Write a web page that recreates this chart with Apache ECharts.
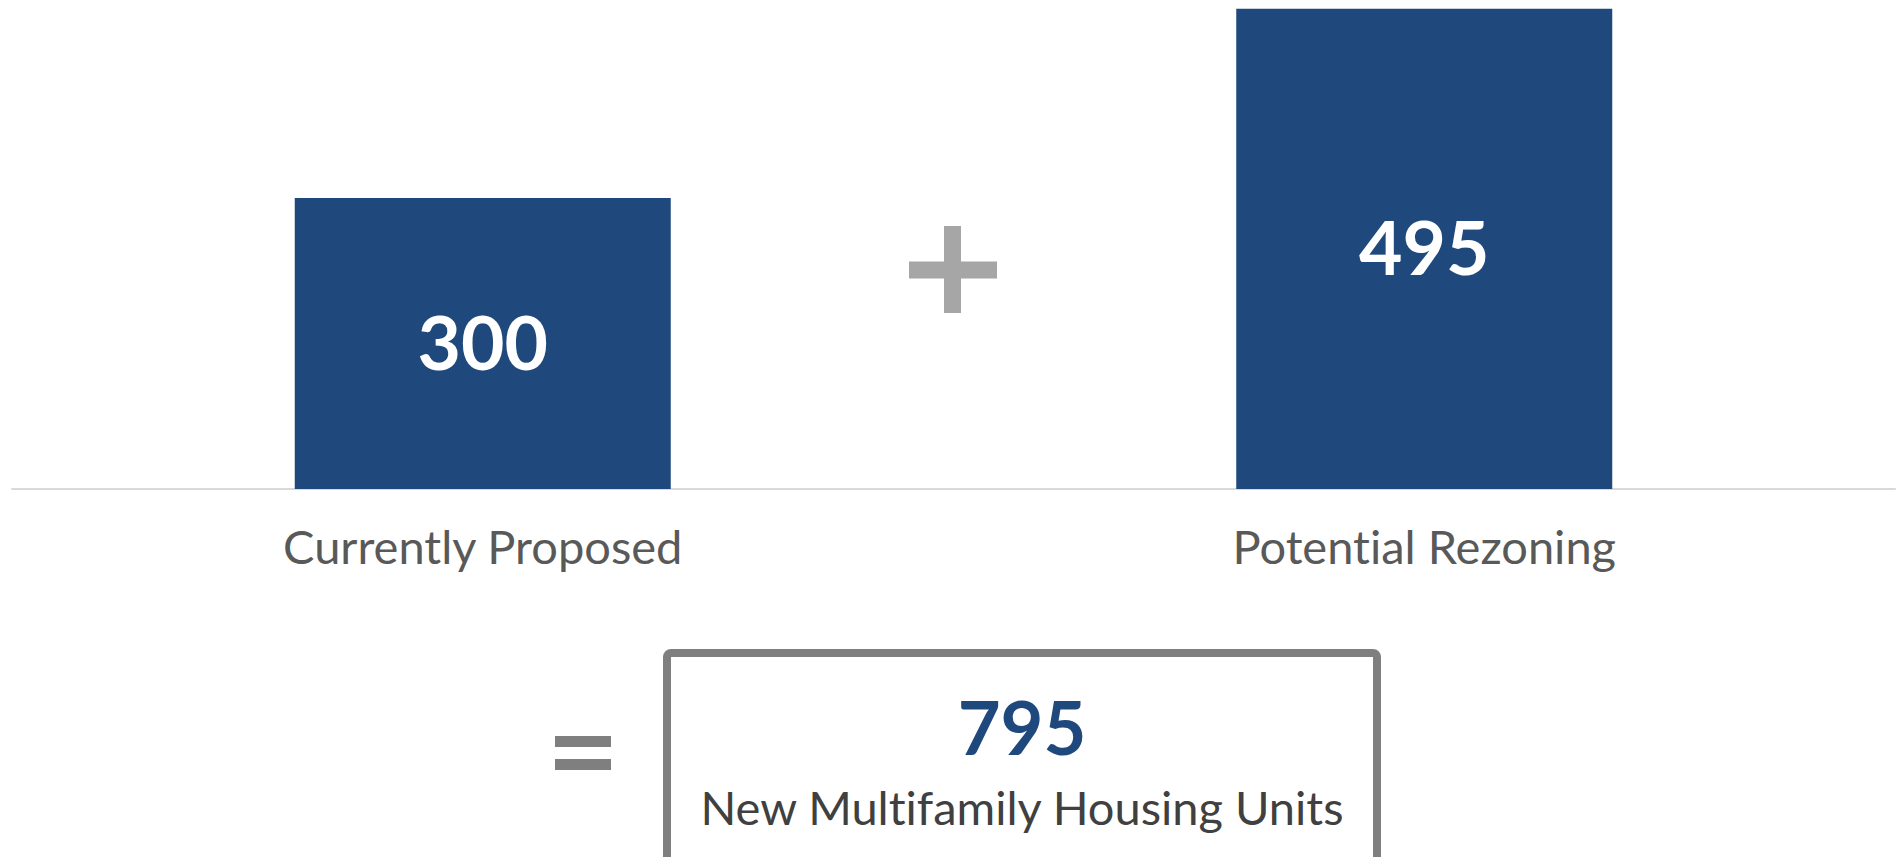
<!DOCTYPE html>
<html>
<head>
<meta charset="utf-8">
<title>New Multifamily Housing Units</title>
<script src="https://cdn.jsdelivr.net/npm/echarts@6/dist/echarts.min.js"></script>
<style>
  html, body { margin: 0; padding: 0; background: #fff; }
  #main { width: 1902px; height: 857px; }
  /* the original font has no "ti"/"fi" ligatures */
  #main text { font-variant-ligatures: none; font-feature-settings: "liga" 0, "clig" 0, "dlig" 0; }
</style>
</head>
<body>
<div id="main"></div>
<script>
// data
var categories = ['Currently Proposed', 'Potential Rezoning'];
var proposedValues = [300, '-'];
var rezoningValues = ['-', 495];
var totalLabel = 'New Multifamily Housing Units';

var total = 0;
proposedValues.concat(rezoningValues).forEach(function (v) {
  if (typeof v === 'number') total += v;
});

var barColor = '#1F497D';
var fontFamily = 'Lato, "Open Sans", sans-serif';

var chart = echarts.init(document.getElementById('main'), null, { renderer: 'svg' });

var barLabel = {
  show: true,
  position: 'inside',
  offset: [0, -3],
  color: '#fff',
  fontSize: 75,
  fontWeight: 'bold',
  fontFamily: fontFamily
};

var options = {
  animation: false,
  grid: { left: 12, right: 7, top: 4, bottom: 368, containLabel: false },
  xAxis: [{
    type: 'category',
    data: categories,
    axisTick: { show: false },
    axisLine: { show: true, lineStyle: { color: '#D9D9D9', width: 2 } },
    axisLabel: {
      color: '#595959',
      fontSize: 47,
      fontFamily: fontFamily,
      margin: 33
    }
  }],
  yAxis: [{
    type: 'value',
    min: 0,
    max: 500,
    show: false,
    splitLine: { show: false }
  }],
  series: [{
    name: 'Currently Proposed',
    type: 'bar',
    data: proposedValues,
    barWidth: 376,
    barGap: '-100%',
    itemStyle: { color: barColor },
    label: barLabel
  }, {
    name: 'Potential Rezoning',
    type: 'bar',
    data: rezoningValues,
    barWidth: 376,
    barGap: '-100%',
    itemStyle: { color: barColor },
    label: barLabel
  }],
  graphic: [
    // plus sign
    { type: 'rect', shape: { x: 944, y: 226, width: 17, height: 87 }, style: { fill: '#A6A6A6' } },
    { type: 'rect', shape: { x: 909, y: 261.5, width: 88, height: 17 }, style: { fill: '#A6A6A6' } },
    // equals sign
    { type: 'rect', shape: { x: 555, y: 736, width: 56, height: 11 }, style: { fill: '#7F7F7F' } },
    { type: 'rect', shape: { x: 555, y: 759, width: 56, height: 11 }, style: { fill: '#7F7F7F' } },
    // total box
    {
      type: 'rect',
      shape: { x: 667, y: 653, width: 710, height: 210, r: 4 },
      style: { fill: 'none', stroke: '#7F7F7F', lineWidth: 8 }
    },
    {
      type: 'text', x: 1022, y: 726,
      style: {
        text: String(total), fill: barColor, fontSize: 74, fontWeight: 'bold',
        fontFamily: fontFamily, align: 'center', verticalAlign: 'middle'
      }
    },
    {
      type: 'text', x: 1022, y: 807,
      style: {
        text: totalLabel, fill: '#404040', fontSize: 47,
        fontFamily: fontFamily, align: 'center', verticalAlign: 'middle'
      }
    }
  ]
};

chart.setOption(options);
</script>
</body>
</html>
